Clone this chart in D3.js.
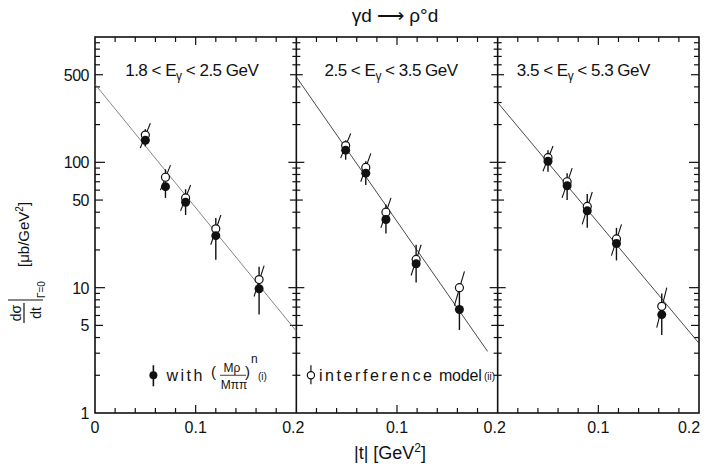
<!DOCTYPE html>
<html>
<head>
<meta charset="utf-8">
<script src="https://cdn.jsdelivr.net/npm/d3@7"></script>
<style>
  body { margin: 0; background: #fff; }
  text { font-family: "Liberation Sans", Arial, sans-serif; fill: #111; }
</style>
</head>
<body>
<svg width="707" height="468"></svg>
<script>
// values (dsigma/dt in ub/GeV^2, |t| in GeV^2)
const energyLow = ["1.8", "2.5", "3.5"];
const energyHigh = ["2.5", "3.5", "5.3"];

const tVals = [
  [0.050, 0.070, 0.090, 0.120, 0.163],
  [0.049, 0.069, 0.089, 0.119, 0.162],
  [0.050, 0.069, 0.089, 0.118, 0.163]
];

// filled points, model (i)
const filledVals = [
  [150, 64, 48, 26, 9.8],
  [125, 82, 35, 15.5, 6.7],
  [102, 65, 41, 22.5, 6.1]
];
const filledLo = [
  [134, 52, 38, 16.7, 6.1],
  [105, 66, 27, 11, 4.6],
  [84, 50, 30, 16.5, 4.2]
];
const filledHi = [
  [184, 88, 61, 36, 14.7],
  [150, 102, 46, 22, 9.5],
  [125, 82, 56, 30, 9]
];

// open points, interference model (ii)
const openVals = [
  [165, 76, 52, 29.5, 11.6],
  [136, 91, 40, 16.8, 10],
  [109, 70, 44.5, 24.5, 7.1]
];
const openLo = [
  [130, 60, 41, 22, 8.5],
  [108, 70, 30, 12.5, 7.2],
  [85, 52, 32, 18, 4.8]
];
const openHi = [
  [205, 95, 66, 38, 15],
  [170, 118, 52, 22, 13.5],
  [135, 90, 58, 32, 10]
];

// exponential fits (straight on the log axis)
const fitStart = [420, 480, 300];
const fitEndT = [0.2, 0.19, 0.2];
const fitEnd = [4.5, 3.1, 3.6];

const xTickAt = [[0, 0.1, 0.2], [0.1, 0.2], [0.1, 0.2]];
const xTickLabels = [["0", "0.1", "0.2"], ["0.1", "0.2"], ["0.1", "0.2"]];
const yTickLabels = [1, 5, 10, 50, 100, 500];

const svg = d3.select("svg");

// frame
const frameLeft = 95, frameRight = 699, frameTop = 37, frameBottom = 413;
const panelW = (frameRight - frameLeft) / 3;

const y = d3.scaleLog().domain([1, 1000]).range([frameBottom, frameTop]);
const xs = [0, 1, 2].map(i =>
  d3.scaleLinear().domain([0, 0.2]).range([frameLeft + i * panelW, frameLeft + (i + 1) * panelW])
);

const ink = "#111";

// box + dividers
svg.append("rect")
  .attr("x", frameLeft).attr("y", frameTop)
  .attr("width", frameRight - frameLeft).attr("height", frameBottom - frameTop)
  .attr("fill", "none").attr("stroke", ink).attr("stroke-width", 1.6);

[1, 2].forEach(i => {
  svg.append("line")
    .attr("x1", xs[i](0)).attr("x2", xs[i](0))
    .attr("y1", frameTop).attr("y2", frameBottom)
    .attr("stroke", ink).attr("stroke-width", 1.6);
});

// y ticks: long at decades, medium at 5s, short otherwise
const tickLen = v => {
  const m = Math.round(v / Math.pow(10, Math.floor(Math.log10(v) + 1e-9)));
  return m === 1 ? 10 : m === 5 ? 8 : 5;
};
const yTicks = y.ticks().filter(v => v > 1 && v < 1000);

const edges = [xs[0](0), xs[1](0), xs[2](0), xs[2](0.2)];
edges.forEach((ex, k) => {
  const left = k > 0 ? 1 : 0;   // tick goes to the left of the line
  const right = k < 3 ? 1 : 0;  // tick goes to the right of the line
  svg.append("g").selectAll("line")
    .data(yTicks)
    .join("line")
    .attr("x1", d => ex - left * tickLen(d) * (k === 3 ? 1 : 0.8))
    .attr("x2", d => ex + right * tickLen(d) * (k === 0 ? 1 : 0.8))
    .attr("y1", d => y(d)).attr("y2", d => y(d))
    .attr("stroke", ink).attr("stroke-width", 1.2);
});

// x ticks every 0.02, inward on top and bottom
xs.forEach(x => {
  const ticks = x.ticks(10).filter(v => v > 0.001 && v < 0.199);
  const len = v => Math.abs(v - 0.1) < 1e-6 ? 8 : 5;
  const g = svg.append("g");
  g.selectAll("line.b").data(ticks).join("line").attr("class", "b")
    .attr("x1", d => x(d)).attr("x2", d => x(d))
    .attr("y1", frameBottom).attr("y2", d => frameBottom - len(d))
    .attr("stroke", ink).attr("stroke-width", 1.2);
  g.selectAll("line.t").data(ticks).join("line").attr("class", "t")
    .attr("x1", d => x(d)).attr("x2", d => x(d))
    .attr("y1", frameTop).attr("y2", d => frameTop + len(d))
    .attr("stroke", ink).attr("stroke-width", 1.2);
});

// tick labels (the last one is pulled in so it stays on the page)
xs.forEach((x, i) => {
  svg.append("g").selectAll("text")
    .data(xTickAt[i])
    .join("text")
    .attr("x", d => x(d) - (d === 0.2 ? (i < 2 ? 3 : 10) : 0))
    .attr("y", 433)
    .attr("text-anchor", "middle")
    .attr("font-size", 16)
    .text((d, j) => xTickLabels[i][j]);
});

svg.append("g").selectAll("text")
  .data(yTickLabels)
  .join("text")
  .attr("x", frameLeft - 6)
  .attr("y", d => y(d) + 6)
  .attr("text-anchor", "end")
  .attr("font-size", 16)
  .attr("letter-spacing", -0.5)
  .text(d => d);

// title
svg.append("text")
  .attr("x", 395).attr("y", 22)
  .attr("text-anchor", "middle")
  .attr("font-size", 19)
  .attr("font-family", "DejaVu Sans")
  .text("\u03b3d \u27f6 \u03c1\u00b0d");

// panel labels with E_gamma subscript
const labelStart = [0.030, 0.028, 0.019];
xs.forEach((x, i) => {
  const t = svg.append("text")
    .attr("x", x(labelStart[i])).attr("y", 76)
    .attr("font-size", 17)
    .attr("letter-spacing", -0.5);
  t.append("tspan").text(`${energyLow[i]} < E`);
  t.append("tspan").attr("dy", 4).attr("font-size", 12).text("\u03b3");
  t.append("tspan").attr("dy", -4).text(` < ${energyHigh[i]} GeV`);
});

// fit lines
xs.forEach((x, i) => {
  svg.append("line")
    .attr("x1", x(0)).attr("y1", y(fitStart[i]))
    .attr("x2", x(fitEndT[i])).attr("y2", y(fitEnd[i]))
    .attr("stroke", i === 0 ? "#777" : "#333")
    .attr("stroke-width", 0.9);
});

// points with error bars
xs.forEach((x, i) => {
  const g = svg.append("g");
  const idx = d3.range(tVals[i].length);
  // slanted bars belong to the open points
  g.selectAll("line.s").data(idx).join("line").attr("class", "s")
    .attr("x1", j => x(tVals[i][j] - 0.005)).attr("y1", j => y(openLo[i][j]))
    .attr("x2", j => x(tVals[i][j] + 0.005)).attr("y2", j => y(openHi[i][j]))
    .attr("stroke", ink).attr("stroke-width", 1.1);
  // vertical bars belong to the filled points
  g.selectAll("line.v").data(idx).join("line").attr("class", "v")
    .attr("x1", j => x(tVals[i][j])).attr("y1", j => y(filledLo[i][j]))
    .attr("x2", j => x(tVals[i][j])).attr("y2", j => y(filledHi[i][j]))
    .attr("stroke", ink).attr("stroke-width", 1.4);
  g.selectAll("circle.o").data(idx).join("circle").attr("class", "o")
    .attr("cx", j => x(tVals[i][j])).attr("cy", j => y(openVals[i][j]))
    .attr("r", 4).attr("fill", "#fff").attr("stroke", ink).attr("stroke-width", 1.2);
  g.selectAll("circle.f").data(idx).join("circle").attr("class", "f")
    .attr("cx", j => x(tVals[i][j])).attr("cy", j => y(filledVals[i][j]))
    .attr("r", 4.5).attr("fill", ink);
});

// legend, anchored at value 2 on the y axis
const legY = y(2);
const fx = xs[0](0.058);
svg.append("line").attr("x1", fx).attr("x2", fx).attr("y1", legY - 10).attr("y2", legY + 11)
  .attr("stroke", ink).attr("stroke-width", 1.6);
svg.append("circle").attr("cx", fx).attr("cy", legY).attr("r", 4).attr("fill", ink);
svg.append("text").attr("x", fx + 13).attr("y", legY + 6).attr("font-size", 16)
  .attr("textLength", 36).text("with");
svg.append("text").attr("x", 211).attr("y", legY + 2).attr("font-size", 15).text("(");
svg.append("text").attr("x", 232).attr("y", legY - 3).attr("font-size", 12).attr("text-anchor", "middle").text("M\u03c1");
svg.append("line").attr("x1", 220).attr("x2", 246).attr("y1", legY).attr("y2", legY).attr("stroke", ink).attr("stroke-width", 0.8);
svg.append("text").attr("x", 234).attr("y", legY + 14).attr("font-size", 12).attr("text-anchor", "middle").text("M\u03c0\u03c0");
svg.append("text").attr("x", 245).attr("y", legY + 2).attr("font-size", 15).text(")");
svg.append("text").attr("x", 251).attr("y", legY - 12).attr("font-size", 12).text("n");
svg.append("text").attr("x", 258).attr("y", legY + 5).attr("font-size", 10).text("(i)");

const ox = xs[1](0.0145);
svg.append("line").attr("x1", ox).attr("x2", ox).attr("y1", legY - 10).attr("y2", legY + 9)
  .attr("stroke", ink).attr("stroke-width", 1.2);
svg.append("circle").attr("cx", ox).attr("cy", legY).attr("r", 3.6).attr("fill", "#fff")
  .attr("stroke", ink).attr("stroke-width", 1.2);
svg.append("text").attr("x", ox + 8).attr("y", legY + 6).attr("font-size", 16)
  .attr("textLength", 113).text("interference");
svg.append("text").attr("x", ox + 128).attr("y", legY + 6).attr("font-size", 16)
  .attr("textLength", 43).text("model");
svg.append("text").attr("x", ox + 173).attr("y", legY + 5).attr("font-size", 10).text("(ii)");

// x axis title
svg.append("text").attr("x", 390).attr("y", 459).attr("text-anchor", "middle").attr("font-size", 18)
  .html("|t| [GeV<tspan dy='-7' font-size='12'>2</tspan><tspan dy='7'>]</tspan>");

// y axis title, rotated
const yt = svg.append("g").attr("transform", "translate(27,313) rotate(-90)");
yt.append("text").attr("x", 0).attr("y", -6).attr("text-anchor", "middle").attr("font-size", 14).text("d\u03c3");
yt.append("line").attr("x1", -10).attr("x2", 10).attr("y1", -3).attr("y2", -3).attr("stroke", ink).attr("stroke-width", 1.2);
yt.append("text").attr("x", 0).attr("y", 14).attr("text-anchor", "middle").attr("font-size", 14).text("dt");
yt.append("line").attr("x1", 13).attr("x2", 13).attr("y1", -19).attr("y2", 16).attr("stroke", ink).attr("stroke-width", 1.2);
yt.append("text").attr("x", 15).attr("y", 18).attr("font-size", 10).text("\u0393=0");
yt.append("text").attr("x", 46).attr("y", 2).attr("font-size", 15)
  .html("[\u03bcb/GeV<tspan dy='-6' font-size='10'>2</tspan><tspan dy='6'>]</tspan>");
</script>
</body>
</html>
